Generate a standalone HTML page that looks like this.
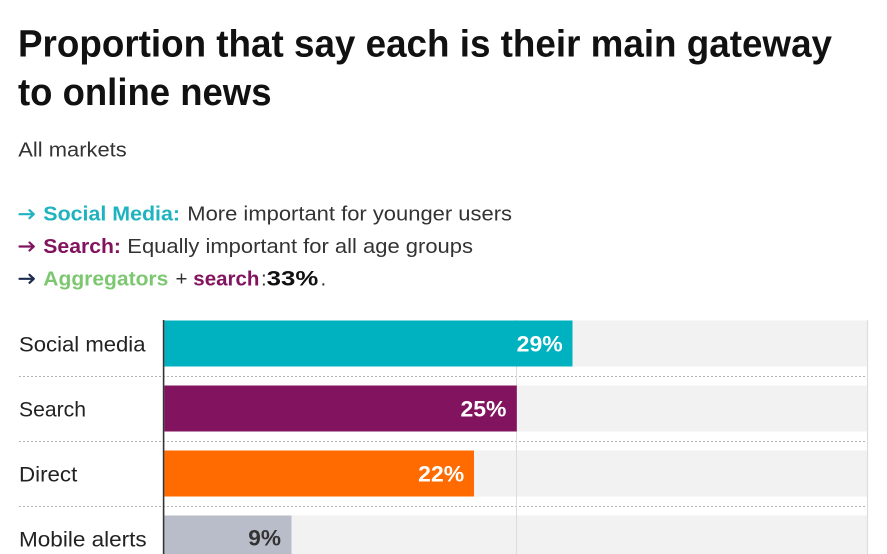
<!DOCTYPE html>
<html>
<head>
<meta charset="utf-8">
<style>
  html,body{margin:0;padding:0;background:#fff;}
  body{width:887px;height:554px;overflow:hidden;}
  svg{display:block;}
  text{font-family:"Liberation Sans", sans-serif;}
</style>
</head>
<body>
<svg width="887" height="554" viewBox="0 0 887 554" xmlns="http://www.w3.org/2000/svg">
  <rect x="0" y="0" width="887" height="554" fill="#ffffff"/>

  <!-- Title -->
  <text x="18" y="56.7" font-size="38" font-weight="bold" fill="#111" textLength="814" lengthAdjust="spacingAndGlyphs">Proportion that say each is their main gateway</text>
  <text x="18" y="105" font-size="38" font-weight="bold" fill="#111" textLength="253.5" lengthAdjust="spacingAndGlyphs">to online news</text>

  <!-- Subtitle -->
  <text x="18.3" y="156.7" font-size="20.5" fill="#333" textLength="108.4" lengthAdjust="spacingAndGlyphs">All markets</text>

  <!-- Legend arrows -->
  <g fill="none" stroke-width="2.2" stroke-linecap="round" stroke-linejoin="round">
    <g stroke="#1fb3c0"><path d="M19.5 214.2 H33.5"/><path d="M29.5 210.2 L33.8 214.2 L29.5 218.2"/></g>
    <g stroke="#82135e"><path d="M19.5 246.5 H33.5"/><path d="M29.5 242.5 L33.8 246.5 L29.5 250.5"/></g>
    <g stroke="#1c2b4f"><path d="M19.5 278.8 H33.5"/><path d="M29.5 274.8 L33.8 278.8 L29.5 282.8"/></g>
  </g>

  <!-- Legend line 1 -->
  <text x="43.3" y="220.7" font-size="20.5" font-weight="bold" fill="#1fb3c0" textLength="136.7" lengthAdjust="spacingAndGlyphs">Social Media:</text>
  <text x="187.3" y="220.7" font-size="20.5" fill="#333" textLength="324.7" lengthAdjust="spacingAndGlyphs">More important for younger users</text>

  <!-- Legend line 2 -->
  <text x="43.3" y="253" font-size="20.5" font-weight="bold" fill="#82135e" textLength="77.7" lengthAdjust="spacingAndGlyphs">Search:</text>
  <text x="127.3" y="253" font-size="20.5" fill="#333" textLength="345.7" lengthAdjust="spacingAndGlyphs">Equally important for all age groups</text>

  <!-- Legend line 3 -->
  <text x="43.3" y="285.3" font-size="20.5" font-weight="bold" fill="#7dc771" textLength="125" lengthAdjust="spacingAndGlyphs">Aggregators</text>
  <text x="175.5" y="285.3" font-size="20.5" fill="#333">+</text>
  <text x="193.3" y="285.3" font-size="20.5" font-weight="bold" fill="#82135e">search</text>
  <text x="261" y="285.3" font-size="20.5" fill="#333">:</text>
  <text x="266.7" y="285.3" font-size="21.5" font-weight="bold" fill="#111" textLength="51.6" lengthAdjust="spacingAndGlyphs">33%</text>
  <text x="320.5" y="285.3" font-size="20.5" fill="#333">.</text>

  <!-- Row backgrounds -->
  <rect x="164.5" y="320.5" width="703" height="46" fill="#f2f2f2"/>
  <rect x="164.5" y="385.5" width="703" height="46" fill="#f2f2f2"/>
  <rect x="164.5" y="450.5" width="703" height="46" fill="#f2f2f2"/>
  <rect x="164.5" y="515.5" width="703" height="40" fill="#f2f2f2"/>

  <!-- Dotted separators -->
  <g stroke="#b4b4b4" stroke-width="1" stroke-dasharray="2,2">
    <line x1="19" y1="376.5" x2="865" y2="376.5"/>
    <line x1="19" y1="441.5" x2="865" y2="441.5"/>
    <line x1="19" y1="506.5" x2="865" y2="506.5"/>
  </g>

  <!-- Grid line 25% and right edge -->
  <line x1="516.5" y1="320" x2="516.5" y2="554" stroke="#dcdcdc" stroke-width="1"/>
  <line x1="867.5" y1="320" x2="867.5" y2="554" stroke="#dddddd" stroke-width="1.2"/>

  <!-- Bars -->
  <rect x="164.5" y="320.5" width="408" height="46" fill="#00b2bf"/>
  <rect x="164.5" y="385.5" width="352.3" height="46" fill="#82135e"/>
  <rect x="164.5" y="450.5" width="309.5" height="46" fill="#ff6b00"/>
  <rect x="164.5" y="515.5" width="127" height="40" fill="#b8bdc9"/>

  <!-- Axis line -->
  <line x1="163.6" y1="320" x2="163.6" y2="554" stroke="#333" stroke-width="1.6"/>

  <!-- Row labels -->
  <text x="19" y="351.7" font-size="21" fill="#222" textLength="126.5" lengthAdjust="spacingAndGlyphs">Social media</text>
  <text x="19" y="416.7" font-size="21" fill="#222" textLength="67" lengthAdjust="spacingAndGlyphs">Search</text>
  <text x="19" y="481.7" font-size="21" fill="#222" textLength="58.3" lengthAdjust="spacingAndGlyphs">Direct</text>
  <text x="19" y="546.7" font-size="21" fill="#222" textLength="127.7" lengthAdjust="spacingAndGlyphs">Mobile alerts</text>

  <!-- Value labels -->
  <text x="516.7" y="351.7" font-size="22" font-weight="bold" fill="#ffffff" textLength="46" lengthAdjust="spacingAndGlyphs">29%</text>
  <text x="460.5" y="416.7" font-size="22" font-weight="bold" fill="#ffffff" textLength="46" lengthAdjust="spacingAndGlyphs">25%</text>
  <text x="418.2" y="481.7" font-size="22" font-weight="bold" fill="#ffffff" textLength="46" lengthAdjust="spacingAndGlyphs">22%</text>
  <text x="248.3" y="545.5" font-size="22" font-weight="bold" fill="#333" textLength="32.7" lengthAdjust="spacingAndGlyphs">9%</text>
</svg>
</body>
</html>
